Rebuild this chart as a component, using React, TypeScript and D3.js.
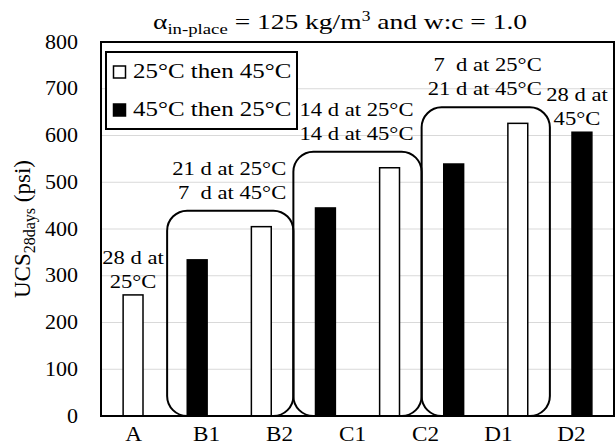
import React from 'react';
import * as d3 from 'd3';

// bars, left to right (alternating 25→45 / 45→25 curing)
const barIds = ['b1', 'b2', 'b3', 'b4', 'b5', 'b6', 'b7', 'b8'];
const barValues = [259, 334, 405, 445, 531, 539, 626, 607];
const barSeries = [0, 1, 0, 1, 0, 1, 0, 1];

const xLabels = ['A', 'B1', 'B2', 'C1', 'C2', 'D1', 'D2'];
const legendLabels = ['25°C then 45°C', '45°C then 25°C'];
const yTicks = [0, 100, 200, 300, 400, 500, 600, 700, 800];

// bars grouped by a rounded box, with a two line note over each box
const groupMembers = [['b2', 'b3'], ['b4', 'b5'], ['b6', 'b7']];
const groupNotes = [
  ['21 d at 25°C', '7  d at 45°C'],
  ['14 d at 25°C', '14 d at 45°C'],
  ['7  d at 25°C', '21 d at 45°C'],
];
const singleNoteBars = ['b1', 'b8'];
const singleNotes = [['28 d at', '25°C'], ['28 d at', '45°C']];

const W = 615, H = 445;
const margin = { top: 42, right: 1, bottom: 29, left: 101 };
const FONT = "'Liberation Serif', 'Times New Roman', 'DejaVu Serif', serif";
const SX = 1.16;
const fills = ['#ffffff', '#000000'];

function SText({ x, y, size, anchor = 'start', sx = SX, children }: any) {
  return (
    <text transform={`translate(${x},${y}) scale(${sx},1)`}
      textAnchor={anchor} fill="#000" style={{ whiteSpace: 'pre', fontSize: size, fontFamily: FONT }}>
      {children}
    </text>
  );
}

export default function App() {
  const x0 = margin.left, x1 = W - margin.right;
  const y0 = H - margin.bottom, y1 = margin.top;

  const x = d3.scaleBand<string>().domain(barIds).range([x0, x1])
    .paddingInner(0.69).paddingOuter(0.345);
  const xl = d3.scaleBand<string>().domain(xLabels).range([97, 608]);
  const y = d3.scaleLinear().domain([0, 800]).range([y0, y1]);
  const bw = x.bandwidth();
  const gap = (x.step() - bw) / 2;

  return (
    <svg width={W} height={H} style={{ position: 'absolute', left: 0, top: 0, background: '#fff', fontFamily: FONT }}>
      <rect width={W} height={H} fill="#fff" />

      {/* title */}
      <text transform={`translate(153,29) scale(1.25,1)`} fill="#000" style={{ whiteSpace: 'pre', fontFamily: FONT, fontSize: 22 }}>
        <tspan>α</tspan>
        <tspan fontSize={15} dy={5}>in-place</tspan>
        <tspan dy={-5}> = 125 kg/m</tspan>
        <tspan fontSize={14} dy={-8}>3</tspan>
        <tspan dy={8}> and w:c = 1.0</tspan>
      </text>

      {/* grid */}
      {yTicks.filter(t => t > 0 && t < 800).map(t => (
        <line key={t} x1={x0} x2={x1} y1={y(t)} y2={y(t)} stroke="#d9d9d9" strokeWidth={1} />
      ))}

      {/* y ticks */}
      {yTicks.map(t => (
        <SText key={t} x={78} y={y(t) + 6.5} size={20} anchor="end" sx={1.1}>{t}</SText>
      ))}

      {/* y title */}
      <text transform={`translate(30,${229}) rotate(-90)`} textAnchor="middle" fill="#000"
        style={{ fontFamily: FONT, fontSize: 23 }}>
        <tspan>UCS</tspan>
        <tspan fontSize={16} dy={5}>28days</tspan>
        <tspan dy={-5}> (psi)</tspan>
      </text>

      {/* bars */}
      {barIds.map((id, i) => (
        <rect key={id} x={x(id)} y={y(barValues[i])} width={bw} height={y(0) - y(barValues[i])}
          fill={fills[barSeries[i]]} stroke="#000" strokeWidth={1.5} />
      ))}

      {/* group boxes + notes */}
      {groupMembers.map((g, gi) => {
        const left = (x(g[0]) as number) - gap + (gi === 0 ? 2 : 0);
        const right = (x(g[g.length - 1]) as number) + bw + gap;
        const top = y(d3.max(g, id => barValues[barIds.indexOf(id)]) as number) - 16;
        const cx = (left + right) / 2;
        return (
          <g key={gi}>
            <rect x={left} y={top} width={right - left} height={y(0) - top} rx={20} ry={20}
              fill="none" stroke="#000" strokeWidth={2} />
            <SText x={cx + 56} y={top - 36} size={19.5} anchor="end">{groupNotes[gi][0]}</SText>
            <SText x={cx + 56} y={top - 12} size={19.5} anchor="end">{groupNotes[gi][1]}</SText>
          </g>
        );
      })}

      {singleNoteBars.map((id, i) => {
        const v = barValues[barIds.indexOf(id)];
        const cx = (x(id) as number) + bw / 2 - (i === 1 ? 5 : 0);
        return (
          <g key={id}>
            <SText x={cx} y={y(v) - 31} size={19.5} anchor="middle">{singleNotes[i][0]}</SText>
            <SText x={cx} y={y(v) - 7} size={19.5} anchor="middle">{singleNotes[i][1]}</SText>
          </g>
        );
      })}

      {/* plot frame */}
      <rect x={x0} y={y1} width={x1 - x0} height={y0 - y1} fill="none" stroke="#000" strokeWidth={2} />

      {/* x labels */}
      {xLabels.map(l => (
        <SText key={l} x={(xl(l) as number) + xl.bandwidth() / 2} y={441} size={20} anchor="middle">{l}</SText>
      ))}

      {/* legend */}
      <rect x={106} y={52} width={191} height={77} fill="#fff" stroke="#000" strokeWidth={2} />
      {legendLabels.map((l, i) => (
        <g key={l}>
          <rect x={113.5} y={66 + i * 38} width={12} height={12} fill={fills[i]} stroke="#000" strokeWidth={1.5} />
          <SText x={133} y={78 + i * 38} size={21.5}>{l}</SText>
        </g>
      ))}
    </svg>
  );
}
